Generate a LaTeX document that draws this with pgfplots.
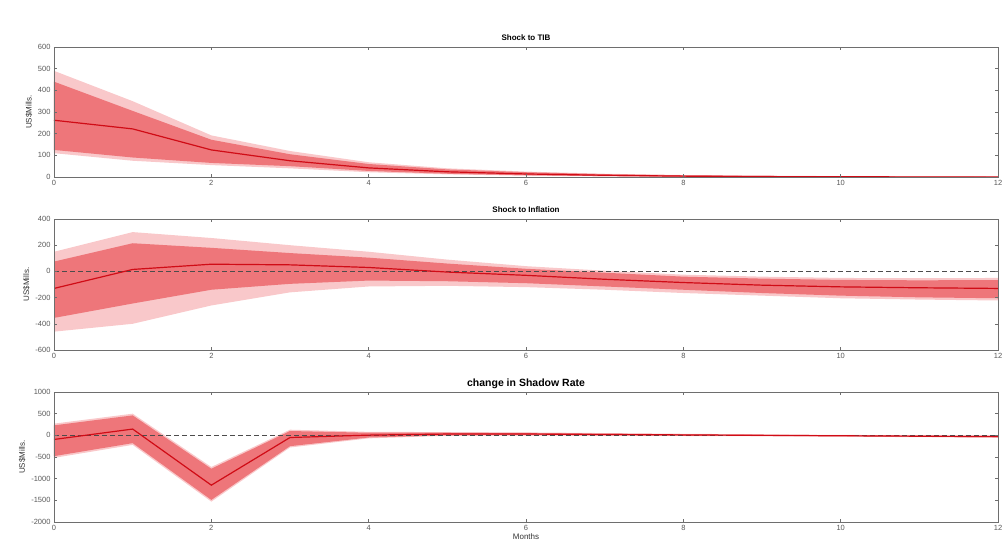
\documentclass[border=0pt]{standalone}
\usepackage{pgfplots}
\pgfplotsset{compat=1.18}
\usepackage{fontspec}
\setmainfont{Liberation Sans}
\definecolor{mline}{RGB}{208,12,22}
\definecolor{inband}{RGB}{238,118,122}
\definecolor{outband}{RGB}{249,200,202}
\definecolor{axgray}{RGB}{110,110,110}
\pgfplotsset{irf/.style={
  scale only axis, width=944pt, xmin=0, xmax=12, xtick={0,2,...,12},
  axis line style={axgray, line width=0.5pt}, tick style={axgray, line width=0.5pt},
  tick align=inside, major tick length=3pt, xtick pos=both, ytick pos=both,
  ticklabel style={font=\fontsize{7.5}{8}\selectfont, text=black!65},
  /pgf/number format/assume math mode=true, /pgf/number format/1000 sep={},
  ylabel={US\$Mills.}, ylabel style={font=\fontsize{8}{9}\selectfont, text=black!80, yshift=-1pt},
  title style={font=\bfseries\fontsize{8}{9}\selectfont, yshift=-3pt},
  anchor=north west, axis on top, clip=true},
  band/.style={draw=none, forget plot},
  zl/.style={black!70, line width=0.6pt, dash pattern=on 5pt off 3pt, forget plot},
  ml/.style={mline, line width=1.2pt}}
\begin{document}
\begin{tikzpicture}
\path[use as bounding box] (0,0) rectangle (1003pt,-552pt);
% Panel 1
\begin{axis}[irf, at={(54pt,-47pt)}, height=130pt, ymin=0, ymax=600, ytick={0,100,...,600}, title={Shock to TIB}]
\addplot[band, fill=outband] coordinates {(0,490) (1,350) (2,192) (3,120) (4,68) (5,40) (6,25) (7,15) (8,9) (9,6) (10,4) (11,3) (12,2)
 (12,-1) (11,-1) (10,-1) (9,-1) (8,0) (7,3) (6,6) (5,12) (4,22) (3,40) (2,55) (1,75) (0,110)};
\addplot[band, fill=inband] coordinates {(0,440) (1,305) (2,172) (3,105) (4,60) (5,35) (6,22) (7,13) (8,8) (9,5) (10,3) (11,2) (12,1)
 (12,0) (11,0) (10,0) (9,0) (8,1) (7,4) (6,8) (5,15) (4,28) (3,50) (2,65) (1,90) (0,125)};
\addplot[zl] coordinates {(0,0) (12,0)};
\addplot[ml] coordinates {(0,262) (1,222) (2,125) (3,75) (4,42) (5,24) (6,14) (7,8) (8,4) (9,2) (10,1) (11,0.5) (12,0)};
\end{axis}
% Panel 2
\begin{axis}[irf, at={(54pt,-219pt)}, height=131pt, ymin=-600, ymax=400, ytick={-600,-400,...,400}, title={Shock to Inflation}]
\addplot[band, fill=outband] coordinates {(0,150) (1,300) (2,255) (3,200) (4,150) (5,90) (6,40) (7,5) (8,-25) (9,-40) (10,-50) (11,-52) (12,-50)
 (12,-222) (11,-215) (10,-205) (9,-185) (8,-165) (7,-140) (6,-120) (5,-110) (4,-115) (3,-160) (2,-260) (1,-400) (0,-460)};
\addplot[band, fill=inband] coordinates {(0,75) (1,215) (2,180) (3,140) (4,105) (5,60) (6,20) (7,-10) (8,-40) (9,-55) (10,-65) (11,-68) (12,-66)
 (12,-205) (11,-198) (10,-185) (9,-165) (8,-140) (7,-115) (6,-90) (5,-75) (4,-70) (3,-95) (2,-140) (1,-245) (0,-355)};
\addplot[zl] coordinates {(0,0) (12,0)};
\addplot[ml] coordinates {(0,-130) (1,15) (2,55) (3,50) (4,30) (5,-5) (6,-30) (7,-60) (8,-85) (9,-105) (10,-118) (11,-125) (12,-130)};
\end{axis}
% Panel 3
\begin{axis}[irf, at={(54pt,-392pt)}, height=130pt, ymin=-2000, ymax=1000, ytick={-2000,-1500,...,1000}, title={change in Shadow Rate},
  title style={font=\bfseries\fontsize{10.5}{12}\selectfont, yshift=-3pt}, xlabel={Months}, xlabel style={font=\fontsize{8}{9}\selectfont, text=black!80, yshift=4pt}]
\addplot[band, fill=outband] coordinates {(0,270) (1,500) (2,-730) (3,130) (4,80) (5,75) (6,68) (7,52) (8,36) (9,22) (10,10) (11,2) (12,-5)
 (12,-55) (11,-42) (10,-30) (9,-22) (8,-15) (7,-8) (6,-5) (5,-10) (4,-70) (3,-280) (2,-1530) (1,-220) (0,-520)};
\addplot[band, fill=inband] coordinates {(0,230) (1,460) (2,-770) (3,100) (4,60) (5,60) (6,55) (7,40) (8,25) (9,12) (10,0) (11,-8) (12,-15)
 (12,-45) (11,-32) (10,-20) (9,-12) (8,-5) (7,0) (6,5) (5,0) (4,-50) (3,-250) (2,-1490) (1,-180) (0,-480)};
\addplot[zl] coordinates {(0,0) (12,0)};
\addplot[ml] coordinates {(0,-95) (1,145) (2,-1150) (3,-50) (4,5) (5,30) (6,30) (7,20) (8,10) (9,0) (10,-10) (11,-20) (12,-30)};
\end{axis}
\end{tikzpicture}
\end{document}
